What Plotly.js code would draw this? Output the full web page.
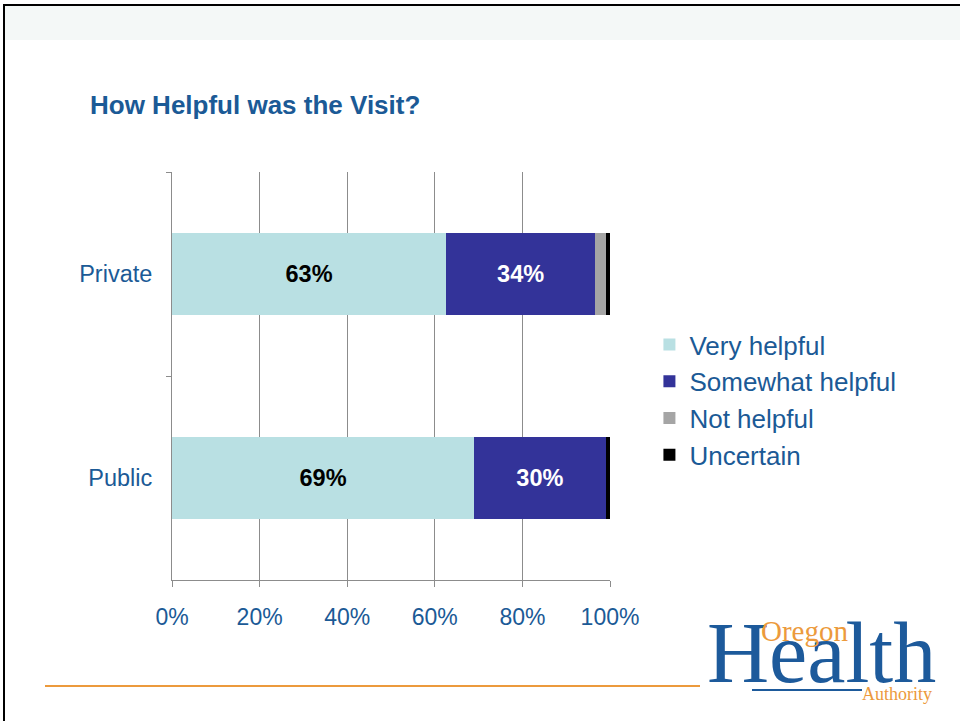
<!DOCTYPE html>
<html>
<head>
<meta charset="utf-8">
<script src="https://cdn.plot.ly/plotly-3.0.1.min.js"></script>
<style>html,body{margin:0;padding:0;background:#fff;}#chart{width:960px;height:721px;}</style>
</head>
<body>
<div id="chart"></div>
<script>
const categories = ['Private', 'Public'];
const seriesNames = ['Very helpful', 'Somewhat helpful', 'Not helpful', 'Uncertain'];
const veryHelpful = [62.6, 69.0];
const somewhatHelpful = [34.0, 30.0];
const notHelpful = [2.4, 0.0];
const uncertain = [1.0, 1.0];
const veryLabels = ['63%', '69%'];
const somewhatLabels = ['34%', '30%'];
const xTickVals = [0, 20, 40, 60, 80, 100];
const xTickText = ['0%', '20%', '40%', '60%', '80%', '100%'];

const seriesValues = [veryHelpful, somewhatHelpful, notHelpful, uncertain];
const seriesLabels = [veryLabels, somewhatLabels, ['', ''], ['', '']];
const colors = ['#b9e0e3', '#333399', '#a5a5a5', '#000000'];
const labelColors = ['#000000', '#ffffff', '#000000', '#ffffff'];

const textBlue = '#1b5a96';
const FONT = 'Liberation Sans, Arial, sans-serif';
const SERIF = 'Liberation Serif, Times New Roman, serif';

const data = seriesNames.map((name, i) => ({
  type: 'bar',
  orientation: 'h',
  name: name,
  y: categories,
  x: seriesValues[i],
  width: 0.4,
  text: seriesLabels[i],
  textposition: 'inside',
  insidetextanchor: 'middle',
  constraintext: 'none',
  textfont: {family: FONT, size: 23.5, color: labelColors[i], weight: 'bold'},
  marker: {color: colors[i], line: {width: 0}},
  hoverinfo: 'skip'
}));

const px = v => (v - 172) / 438;
const py = v => (580 - v) / 408;

const layout = {
  width: 960,
  height: 721,
  autosize: false,
  paper_bgcolor: '#ffffff',
  plot_bgcolor: '#ffffff',
  margin: {l: 172, r: 350, t: 172, b: 141},
  barmode: 'stack',
  showlegend: true,
  font: {family: FONT, color: textBlue},
  title: {
    text: '<b>How Helpful was the Visit?</b>',
    x: 90 / 960, xanchor: 'left', xref: 'container',
    y: 1 - 105 / 721, yanchor: 'middle', yref: 'container',
    font: {family: FONT, size: 26, color: textBlue}
  },
  xaxis: {
    range: [0, 100],
    tickvals: xTickVals,
    ticktext: xTickText,
    showgrid: true,
    gridcolor: '#8c8c8c',
    gridwidth: 1,
    zeroline: false,
    showline: true,
    linecolor: '#8c8c8c',
    ticks: 'outside',
    ticklen: 6,
    tickcolor: '#8c8c8c',
    tickfont: {family: FONT, size: 23, color: textBlue},
    ticklabelstandoff: 10,
    fixedrange: true
  },
  yaxis: {
    type: 'category',
    categoryorder: 'array',
    categoryarray: categories,
    range: [1.5, -0.5],
    showgrid: false,
    zeroline: false,
    showline: true,
    linecolor: '#8c8c8c',
    ticks: 'outside',
    tickson: 'boundaries',
    ticklen: 5,
    tickcolor: '#8c8c8c',
    tickfont: {family: FONT, size: 23.5, color: textBlue},
    ticklabelstandoff: 14,
    fixedrange: true
  },
  legend: {
    x: 1.09, xanchor: 'left',
    y: py(321), yanchor: 'top',
    font: {family: FONT, size: 26, color: textBlue},
    itemwidth: 30,
    bgcolor: 'rgba(0,0,0,0)',
    traceorder: 'normal'
  },
  shapes: [
    {type: 'rect', xref: 'paper', yref: 'paper', x0: px(5), x1: px(960), y0: py(6), y1: py(40), fillcolor: '#f4f8f7', line: {width: 0}, layer: 'below'},
    {type: 'line', xref: 'paper', yref: 'paper', x0: px(4), x1: px(960), y0: py(5), y1: py(5), line: {color: '#000000', width: 2}},
    {type: 'line', xref: 'paper', yref: 'paper', x0: px(4), x1: px(4), y0: py(4), y1: py(721), line: {color: '#000000', width: 2}},
    {type: 'line', xref: 'paper', yref: 'paper', x0: px(45), x1: px(700), y0: py(686), y1: py(686), line: {color: '#ec9a3c', width: 2}},
    {type: 'line', xref: 'paper', yref: 'paper', x0: px(752), x1: px(862), y0: py(690), y1: py(690), line: {color: '#1d5a9b', width: 2}}
  ],
  annotations: [
    {text: 'Health', xref: 'paper', yref: 'paper', x: px(705), y: py(653), xanchor: 'left', yanchor: 'middle', showarrow: false, font: {family: SERIF, size: 86, color: '#1d5a9b'}},
    {text: 'Oregon', xref: 'paper', yref: 'paper', x: px(759), y: py(631), xanchor: 'left', yanchor: 'middle', showarrow: false, font: {family: SERIF, size: 29, color: '#ec9a3c'}},
    {text: 'Authority', xref: 'paper', yref: 'paper', x: px(860), y: py(694), xanchor: 'left', yanchor: 'middle', showarrow: false, font: {family: SERIF, size: 18, color: '#ec9a3c'}}
  ]
};

Plotly.newPlot('chart', data, layout, {displayModeBar: false, staticPlot: true});
</script>
</body>
</html>
